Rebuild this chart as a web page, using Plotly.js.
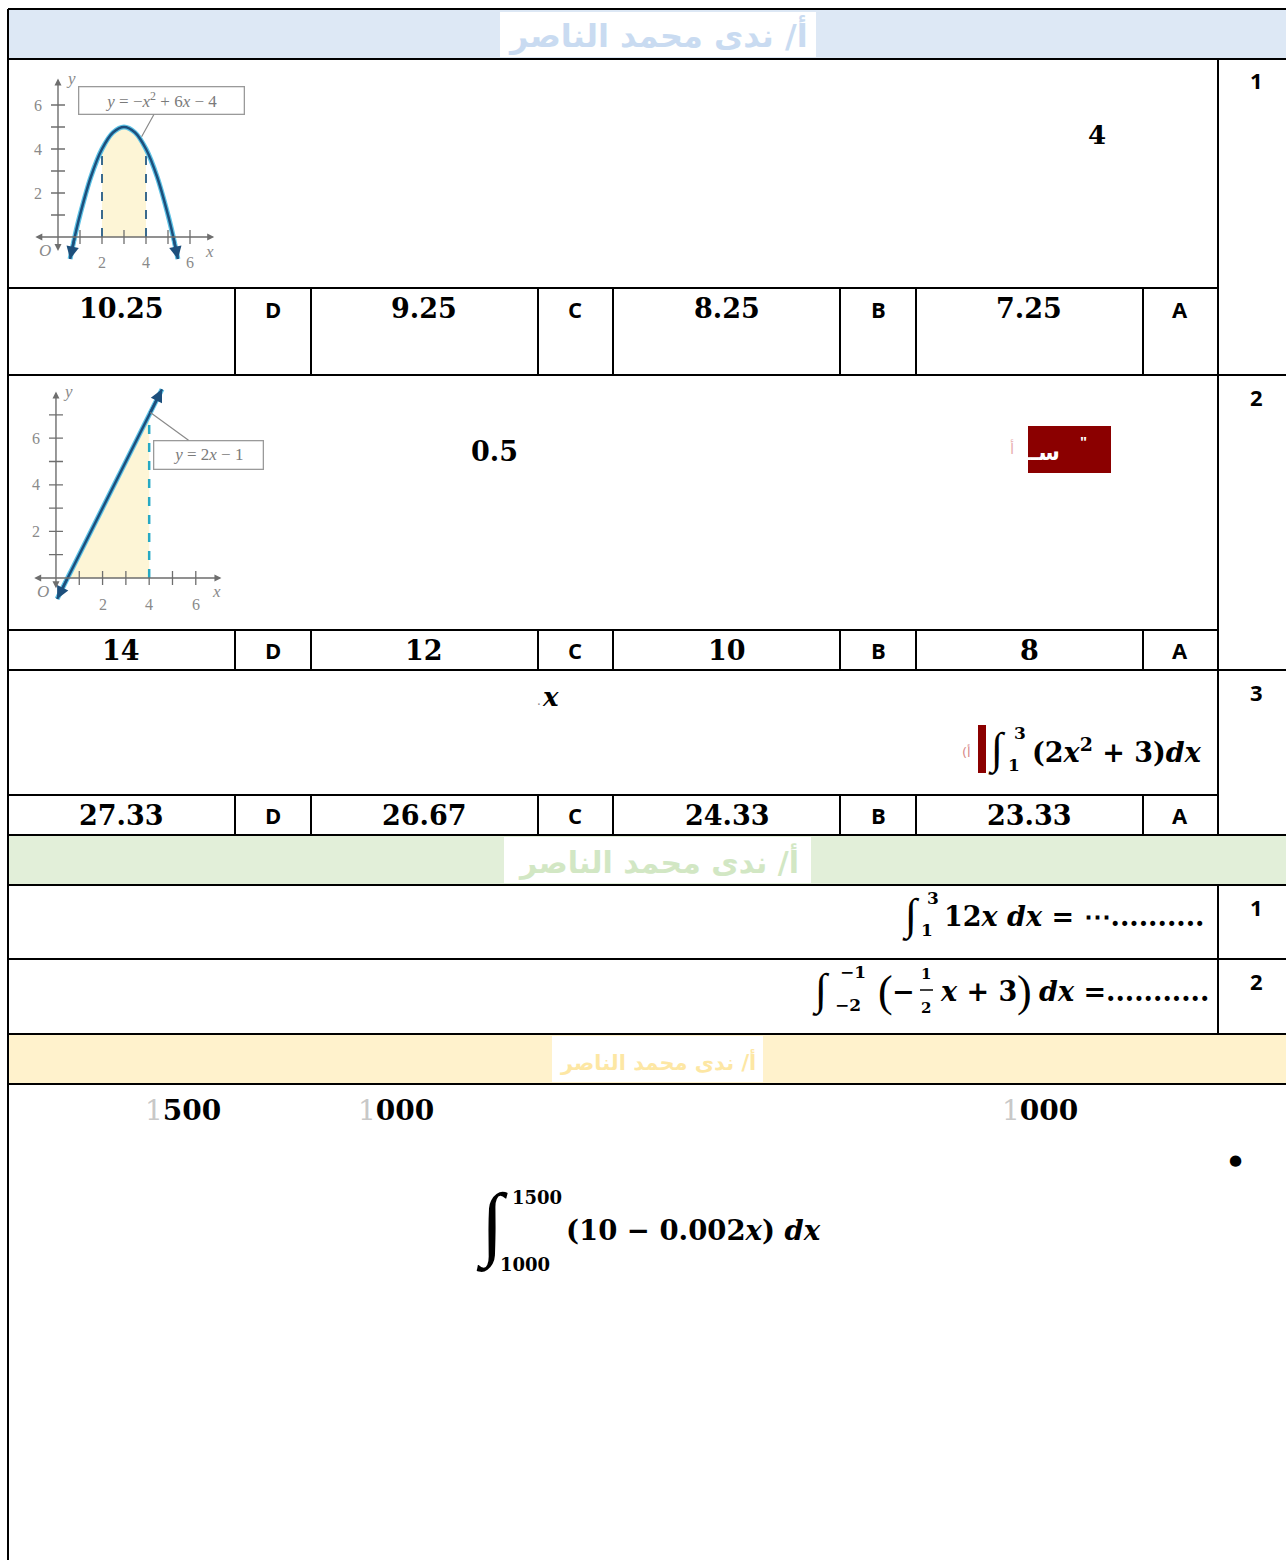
<!DOCTYPE html>
<html><head><meta charset="utf-8">
<script src="https://cdn.plot.ly/plotly-3.0.1.min.js"></script>
<style>html,body{margin:0;padding:0;background:#fff;}#page{width:1286px;height:1560px;}</style>
</head><body><div id="page"></div>
<script>
// ---------- data ----------
const teacherName = 'أ/ ندى محمد الناصر';
const choiceLetters = ['A', 'B', 'C', 'D'];
const q1Choices = ['7.25', '8.25', '9.25', '10.25'];
const q2Choices = ['8', '10', '12', '14'];
const q3Choices = ['23.33', '24.33', '26.67', '27.33'];
const questionNumbers = ['1', '2', '3'];
const section2Numbers = ['1', '2'];
// graph 1: y = -x^2 + 6x - 4
const parabolaX = [0.55, 0.76, 1, 1.5, 2, 2.5, 3, 3.5, 4, 4.5, 5, 5.24, 5.45];
const parabolaY = [-1.0, 0, 1, 2.75, 4, 4.75, 5, 4.75, 4, 2.75, 1, 0, -1.0];
const parabolaShadeX = [2, 2.5, 3, 3.5, 4];
const parabolaShadeY = [4, 4.75, 5, 4.75, 4];
// graph 2: y = 2x - 1
const lineX = [0.05, 0.5, 4, 4.55];
const lineY = [-0.9, 0, 7, 8.1];
const lineShadeX = [0.5, 4];
const lineShadeY = [0, 7];
const tickValues = [2, 4, 6];
const tickLabels = ['2', '4', '6'];
const minorTicksX = [1, 2, 3, 4, 5, 6];
const minorTicksY1 = [1, 2, 3, 4, 5, 6];
const minorTicksY2 = [1, 2, 3, 4, 5, 6, 7];
const bigLimits = ['1500', '1000'];
const topNumbers = ['500', '000', '000'];

// ---------- helpers ----------
const W = 1286, H = 1560;
const PX = v => v / W, PY = v => 1 - v / H;
const shapes = [], annotations = [];
const MATH = 'DejaVu Serif', SANS = 'Open Sans', LBL = 'Liberation Serif';
function hline(y, x0, x1, w) { shapes.push({type:'line', xref:'paper', yref:'paper', x0:PX(x0), x1:PX(x1), y0:PY(y), y1:PY(y), line:{color:'#000', width:w||2}}); }
function vline(x, y0, y1, w) { shapes.push({type:'line', xref:'paper', yref:'paper', x0:PX(x), x1:PX(x), y0:PY(y0), y1:PY(y1), line:{color:'#000', width:w||2}}); }
function rect(x0, y0, x1, y1, fill, layer) { shapes.push({type:'rect', xref:'paper', yref:'paper', x0:PX(x0), x1:PX(x1), y0:PY(y0), y1:PY(y1), fillcolor:fill, line:{width:0}, layer:layer||'below'}); }
function txt(x, y, text, size, o) {
  o = o || {};
  annotations.push({xref:'paper', yref:'paper', x:PX(x), y:PY(y), text:text, showarrow:false,
    xanchor:o.xa||'center', yanchor:o.ya||'middle',
    font:{family:o.family||MATH, size:size, color:o.color||'#000', weight:o.weight===undefined?700:o.weight}});
}
function axTxt(ax, x, y, text, o) {
  o = o || {};
  annotations.push({xref:'x'+ax, yref:'y'+ax, x:x, y:y, text:text, showarrow:false, xanchor:'center', yanchor:'middle',
    font:{family:LBL, size:o.size||16, color:'#8a8a8a', style:o.italic?'italic':'normal'}});
}
function arrow(ax, tipX, tipY, tailX, tailY, color, width, side) {
  annotations.push({xref:'x'+ax, yref:'y'+ax, axref:'x'+ax, ayref:'y'+ax, x:tipX, y:tipY, ax:tailX, ay:tailY,
    text:'', showarrow:true, arrowhead:2, arrowsize:1, arrowwidth:width, arrowcolor:color, arrowside:side||'end'});
}

// ---------- table frame ----------
rect(8, 9, 1286, 59, '#dde8f5');
rect(500, 12, 816, 57, '#ffffff');
rect(8, 835, 1286, 885, '#e2efd9');
rect(504, 837, 811, 883, '#ffffff');
rect(8, 1034, 1286, 1084, '#fff2cc');
rect(552, 1036, 763, 1082, '#ffffff');

[9, 59, 375, 670, 835, 885, 959, 1034, 1084].forEach(y => hline(y, 8, 1286));
[288, 630, 795].forEach(y => hline(y, 8, 1218));
vline(8, 9, 1560);
vline(1218, 59, 835);
vline(1218, 885, 1034);
const cellEdges = [235, 311, 538, 613, 840, 916, 1143];
[[288, 375], [630, 670], [795, 835]].forEach(r => cellEdges.forEach(x => vline(x, r[0], r[1])));

// headers
txt(658, 35, teacherName, 32, {family:'DejaVu Sans', color:'#c9dbf1'});
txt(658, 861, teacherName, 30, {family:'DejaVu Sans', color:'#d2e7c4'});
txt(658, 1061, teacherName, 21, {family:'DejaVu Sans', color:'#fde7a4'});

// question numbers
[80, 397, 692].forEach((y, i) => txt(1256, y, questionNumbers[i], 22, {family:SANS}));
[907, 981].forEach((y, i) => txt(1256, y, section2Numbers[i], 22, {family:SANS}));

// answer rows
const valueCenters = [1029, 727, 424, 121], letterCenters = [1180, 878, 575, 273];
[[q1Choices, 309], [q2Choices, 650], [q3Choices, 815]].forEach(([vals, y]) => {
  vals.forEach((v, i) => {
    txt(valueCenters[i], y, v, 27);
    txt(letterCenters[i], y, choiceLetters[i], 22, {family:SANS});
  });
});

// stray question texts
txt(1097, 135, '4', 26);
txt(494, 451, '0.5', 27);
txt(539, 701, '.', 12, {weight:400, color:'#888'});
txt(550, 697, '<i>x</i>', 26);
rect(1028, 426, 1111, 473, '#8b0000', 'above');
txt(1083, 441, '"', 15, {color:'#fff', family:SANS});
txt(1062, 452, 'ســا', 22, {color:'#fff', family:'DejaVu Sans', xa:'right'});
txt(1012, 449, 'أ', 15, {color:'#e9b0b0', family:'DejaVu Sans', weight:400});
rect(978, 725, 986, 773, '#8b0000', 'above');
txt(966, 752, '(أ', 13, {color:'#d88a8a', family:'DejaVu Sans', weight:400});

// Q3 integral
txt(997, 749, '∫', 44, {family:LBL, weight:400});
txt(1020, 733, '3', 17);
txt(1014, 765, '1', 17);
txt(1204, 750, '(2<i>x</i><sup>2</sup> + 3)<i>dx</i>', 27, {xa:'right'});

// section 2 row 1
txt(911, 915, '∫', 44, {family:LBL, weight:400});
txt(933, 898, '3', 17);
txt(927, 930, '1', 17);
txt(942, 916, '12<i>x</i> <i>dx</i> = ⋯..........', 27, {xa:'left'});

// section 2 row 2
txt(821, 990, '∫', 44, {family:LBL, weight:400});
txt(853, 972, '−1', 17);
txt(848, 1005, '−2', 17);
txt(885, 991, '(', 44, {family:LBL, weight:400});
txt(904, 991, '−', 27);
txt(926, 974, '1', 15);
shapes.push({type:'line', xref:'paper', yref:'paper', x0:PX(920), x1:PX(933), y0:PY(990), y1:PY(990), line:{color:'#000', width:1.5}});
txt(926, 1008, '2', 15);
txt(938, 991, '<i>x</i> + 3', 27, {xa:'left'});
txt(1024, 991, ')', 44, {family:LBL, weight:400});
txt(1037, 991, '<i>dx</i> =...........', 27, {xa:'left'});

// section 3
const faint1 = '<span style="color:#c8c8c8;font-weight:normal">1</span>';
txt(183, 1110, faint1 + topNumbers[0], 28);
txt(396, 1110, faint1 + topNumbers[1], 28);
txt(1040, 1110, faint1 + topNumbers[2], 28);
txt(1235, 1160, '●', 15, {family:'DejaVu Sans'});
txt(492, 1224, '∫', 82, {family:LBL, weight:400});
txt(537, 1197, bigLimits[0], 18);
txt(525, 1264, bigLimits[1], 18);
txt(564, 1230, '(10 − 0.002<i>x</i>) <i>dx</i>', 27.5, {xa:'left'});

// ---------- small graphs ----------
const dark = '#1d4f7c', glow = '#5ec3e6', gray = '#6e6e6e';
const traces = [];
function graphTraces(ax, minorY) {
  traces.push({x:minorTicksX, y:minorTicksX.map(() => 0), xaxis:'x'+ax, yaxis:'y'+ax, mode:'markers', hoverinfo:'skip',
    marker:{symbol:'line-ns', size:10, line:{width:1.3, color:gray}}});
  traces.push({x:minorY.map(() => 0), y:minorY, xaxis:'x'+ax, yaxis:'y'+ax, mode:'markers', hoverinfo:'skip',
    marker:{symbol:'line-ew', size:10, line:{width:1.3, color:gray}}});
}
// graph 1
traces.push({x:parabolaShadeX, y:parabolaShadeY, xaxis:'x', yaxis:'y', mode:'lines', fill:'tozeroy', fillcolor:'#fdf5d6', line:{width:0}, hoverinfo:'skip'});
graphTraces('', minorTicksY1);
traces.push({x:[parabolaShadeX[0], parabolaShadeX[0], null, parabolaShadeX[4], parabolaShadeX[4]],
  y:[0, parabolaShadeY[0], null, 0, parabolaShadeY[4]], xaxis:'x', yaxis:'y', mode:'lines', line:{color:'#3a6a8e', width:2, dash:'dash'}, hoverinfo:'skip'});
traces.push({x:parabolaX, y:parabolaY, xaxis:'x', yaxis:'y', mode:'lines', line:{color:glow, width:5, shape:'spline'}, hoverinfo:'skip'});
traces.push({x:parabolaX, y:parabolaY, xaxis:'x', yaxis:'y', mode:'lines', line:{color:dark, width:2.5, shape:'spline'}, hoverinfo:'skip'});
// graph 2
traces.push({x:lineShadeX, y:lineShadeY, xaxis:'x2', yaxis:'y2', mode:'lines', fill:'tozeroy', fillcolor:'#fdf5d6', line:{width:0}, hoverinfo:'skip'});
graphTraces('2', minorTicksY2);
traces.push({x:[lineShadeX[1], lineShadeX[1]], y:[0, lineShadeY[1]], xaxis:'x2', yaxis:'y2', mode:'lines', line:{color:'#26a9c4', width:2.5, dash:'dash'}, hoverinfo:'skip'});
traces.push({x:lineX, y:lineY, xaxis:'x2', yaxis:'y2', mode:'lines', line:{color:glow, width:5}, hoverinfo:'skip'});
traces.push({x:lineX, y:lineY, xaxis:'x2', yaxis:'y2', mode:'lines', line:{color:dark, width:2.5}, hoverinfo:'skip'});

// axes with arrows
arrow('', 7.1, 0, -1.1, 0, gray, 1.4, 'end+start');
arrow('', 0, 7.2, 0, -0.7, gray, 1.4, 'end+start');
arrow('2', 7.1, 0, -1.0, 0, gray, 1.4, 'end+start');
arrow('2', 0, 8.0, 0, -0.5, gray, 1.4, 'end+start');
// curve end arrowheads
const n1 = parabolaX.length - 1, n2 = lineX.length - 1;
arrow('', parabolaX[0], parabolaY[0], parabolaX[1], parabolaY[1], dark, 2.5);
arrow('', parabolaX[n1], parabolaY[n1], parabolaX[n1 - 1], parabolaY[n1 - 1], dark, 2.5);
arrow('2', lineX[0], lineY[0], lineX[1], lineY[1], dark, 2.5);
arrow('2', lineX[n2], lineY[n2], lineX[n2 - 1], lineY[n2 - 1], dark, 2.5);
// tick labels
tickValues.forEach((v, i) => {
  axTxt('', v, -1.15, tickLabels[i]); axTxt('', -0.9, v, tickLabels[i]);
  axTxt('2', v, -1.15, tickLabels[i]); axTxt('2', -0.85, v, tickLabels[i]);
});
axTxt('', -0.6, -0.6, 'O', {italic:true, size:17});
axTxt('', 0.6, 7.2, 'y', {italic:true, size:17});
axTxt('', 6.9, -0.65, 'x', {italic:true, size:17});
axTxt('2', -0.55, -0.6, 'O', {italic:true, size:17});
axTxt('2', 0.5, 8.0, 'y', {italic:true, size:17});
axTxt('2', 6.9, -0.6, 'x', {italic:true, size:17});
// callout boxes
annotations.push({xref:'x', yref:'y', x:3.8, y:4.56, ax:20, ay:-36, showarrow:true, arrowhead:0, arrowwidth:1.2, arrowcolor:'#8a8a8a',
  text:'<i>y</i> = −<i>x</i><sup>2</sup> + 6<i>x</i> − 4', bgcolor:'#fff', bordercolor:'#9a9a9a', borderwidth:1.3, borderpad:2, width:160,
  font:{family:LBL, size:17, color:'#7a7a7a'}});
annotations.push({xref:'x2', yref:'y2', x:4.05, y:7.1, ax:58, ay:42, showarrow:true, arrowhead:0, arrowwidth:1.2, arrowcolor:'#8a8a8a',
  text:'<i>y</i> = 2<i>x</i> − 1', bgcolor:'#fff', bordercolor:'#9a9a9a', borderwidth:1.3, borderpad:4, width:100,
  font:{family:LBL, size:17, color:'#7a7a7a'}});

const hidden = {visible:false, fixedrange:true, showgrid:false, zeroline:false};
const layout = {
  width:W, height:H, margin:{l:0, r:0, t:0, b:0}, showlegend:false,
  paper_bgcolor:'#fff', plot_bgcolor:'rgba(0,0,0,0)',
  xaxis:Object.assign({domain:[25 / W, 223 / W], range:[-1.5, 7.5], anchor:'y'}, hidden),
  yaxis:Object.assign({domain:[1 - 276.6 / H, 1 - 72 / H], range:[-1.8, 7.5], anchor:'x'}, hidden),
  xaxis2:Object.assign({domain:[28 / W, 230.75 / W], range:[-1.2, 7.5], anchor:'y2'}, hidden),
  yaxis2:Object.assign({domain:[1 - 608.3 / H, 1 - 377.6 / H], range:[-1.3, 8.6], anchor:'x2'}, hidden),
  shapes:shapes, annotations:annotations
};
Plotly.newPlot('page', traces, layout, {staticPlot:true, displayModeBar:false});
</script></body></html>
